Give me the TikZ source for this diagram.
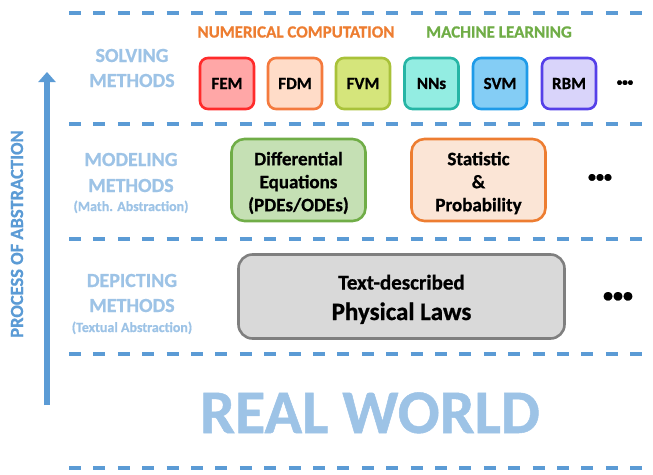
\documentclass[tikz,border=0pt]{standalone}
\usepackage{fontspec}
\setmainfont{Carlito}[BoldFeatures={FakeBold=0.8}]
\usetikzlibrary{arrows.meta}
\definecolor{dblue}{HTML}{5B9BD5}
\definecolor{lblue}{HTML}{9DC3E6}
\definecolor{ncol}{HTML}{ED7D31}
\definecolor{mcol}{HTML}{70AD47}
\tikzset{
  sepline/.style={dblue, line width=4pt, dash pattern=on 12pt off 12.4pt},
  lbl/.style={lblue, font=\bfseries\fontsize{20}{24}\selectfont, anchor=base, inner sep=0pt},
  sublbl/.style={lblue, font=\bfseries\fontsize{14}{16}\selectfont, anchor=base, inner sep=0pt},
  hdr/.style={font=\bfseries\fontsize{17}{20}\selectfont, anchor=base, inner sep=0pt},
  sbox/.style={draw, line width=2.6pt, rounded corners=8pt, minimum width=54pt, minimum height=51pt, inner sep=0pt, font=\bfseries\fontsize{17}{20}\selectfont, text=black},
  mbox/.style={draw, line width=2.6pt, rounded corners=13pt, minimum width=134pt, minimum height=82pt, inner sep=0pt},
  mtext/.style={inner sep=0pt, align=center, font=\bfseries\fontsize{19}{23}\selectfont, text=black},
  dots/.style={inner sep=0pt, text=black},
}
\begin{document}
\begin{tikzpicture}[x=1pt,y=-1pt]
\useasboundingbox (0,0) rectangle (653,474);
% separators
\foreach \yy/\nm in {13/s1,124/s2,239/s3,354/s4,468/s5}{
  \coordinate (\nm a) at (69,\yy);
  \coordinate (\nm b) at (660,\yy);
  \draw[sepline] (\nm a) -- (\nm b);
}
% abstraction arrow
\coordinate (arrbot) at (47,405);
\coordinate (arrtop) at (47,72);
\draw[dblue, line width=6pt, -{Triangle[width=17pt,length=10pt]}] (arrbot) -- (arrtop);
\node[dblue, rotate=90, font=\bfseries\fontsize{18.5}{22}\selectfont, inner sep=0pt] (proc) at (17,234) {PROCESS OF ABSTRACTION};
% row labels
\node[lbl] (sol1) at (132,62) {SOLVING};
\node[lbl] (sol2) at (132,87) {METHODS};
\node[lbl] (mod1) at (131,166) {MODELING};
\node[lbl] (mod2) at (131,192) {METHODS};
\node[sublbl] (mod3) at (131,211) {(Math. Abstraction)};
\node[lbl] (dep1) at (132,287) {DEPICTING};
\node[lbl] (dep2) at (132,312) {METHODS};
\node[sublbl] (dep3) at (132,332) {(Textual Abstraction)};
% headers
\node[hdr, ncol] (numc) at (296,37.5) {NUMERICAL COMPUTATION};
\node[hdr, mcol] (mlrn) at (499,37.5) {MACHINE LEARNING};
% solving boxes
\node[sbox, draw={rgb,255:red,255;green,43;blue,43}, fill={rgb,255:red,255;green,167;blue,167}] (fem) at (227,83.5) {FEM};
\node[sbox, draw={rgb,255:red,244;green,122;blue,62}, fill={rgb,255:red,255;green,220;blue,200}] (fdm) at (295,83.5) {FDM};
\node[sbox, draw={rgb,255:red,169;green,194;blue,58}, fill={rgb,255:red,213;green,229;blue,123}] (fvm) at (363,83.5) {FVM};
\node[sbox, draw={rgb,255:red,38;green,181;blue,165}, fill={rgb,255:red,147;green,237;blue,226}] (nns) at (431.5,83.5) {NNs};
\node[sbox, draw={rgb,255:red,31;green,155;blue,232}, fill={rgb,255:red,132;green,205;blue,245}] (svm) at (500,83.5) {SVM};
\node[sbox, draw={rgb,255:red,85;green,64;blue,232}, fill={rgb,255:red,217;green,212;blue,250}] (rbm) at (569,83.5) {RBM};
\node[dots, font=\bfseries\fontsize{11}{13}\selectfont] (dots1) at (625,83) {•••};
% modeling boxes
\node[mbox, draw=mcol, fill={rgb,255:red,197;green,224;blue,180}] (deq) at (298.5,180) {};
\node[mtext] (deqt) at (298.5,183) {Differential\\Equations\\(PDEs/ODEs)};
\node[mbox, draw=ncol, fill={rgb,255:red,251;green,229;blue,214}] (stat) at (478.5,180) {};
\node[mtext] (statt) at (478.5,183) {Statistic\\\&\\Probability};
\node[dots, font=\bfseries\fontsize{16}{19}\selectfont] (dots2) at (600,178) {•••};
% depicting box
\node[draw={rgb,255:red,127;green,127;blue,127}, fill={rgb,255:red,217;green,217;blue,217}, line width=2.6pt, rounded corners=14pt, minimum width=326pt, minimum height=84pt] (phys) at (401.5,296.5) {};
\node[anchor=base, inner sep=0pt, font=\bfseries\fontsize{21}{24}\selectfont] (phys1) at (401.5,289.5) {Text-described};
\node[anchor=base, inner sep=0pt, font=\bfseries\fontsize{25}{30}\selectfont] (phys2) at (401.5,320) {Physical Laws};
\node[dots, font=\bfseries\fontsize{20}{24}\selectfont] (dots3) at (618,297) {•••};
% real world
\node[lblue, anchor=base, inner sep=0pt, font=\bfseries\fontsize{62}{70}\selectfont] (real) at (370,433) {REAL WORLD};
\end{tikzpicture}
\end{document}
